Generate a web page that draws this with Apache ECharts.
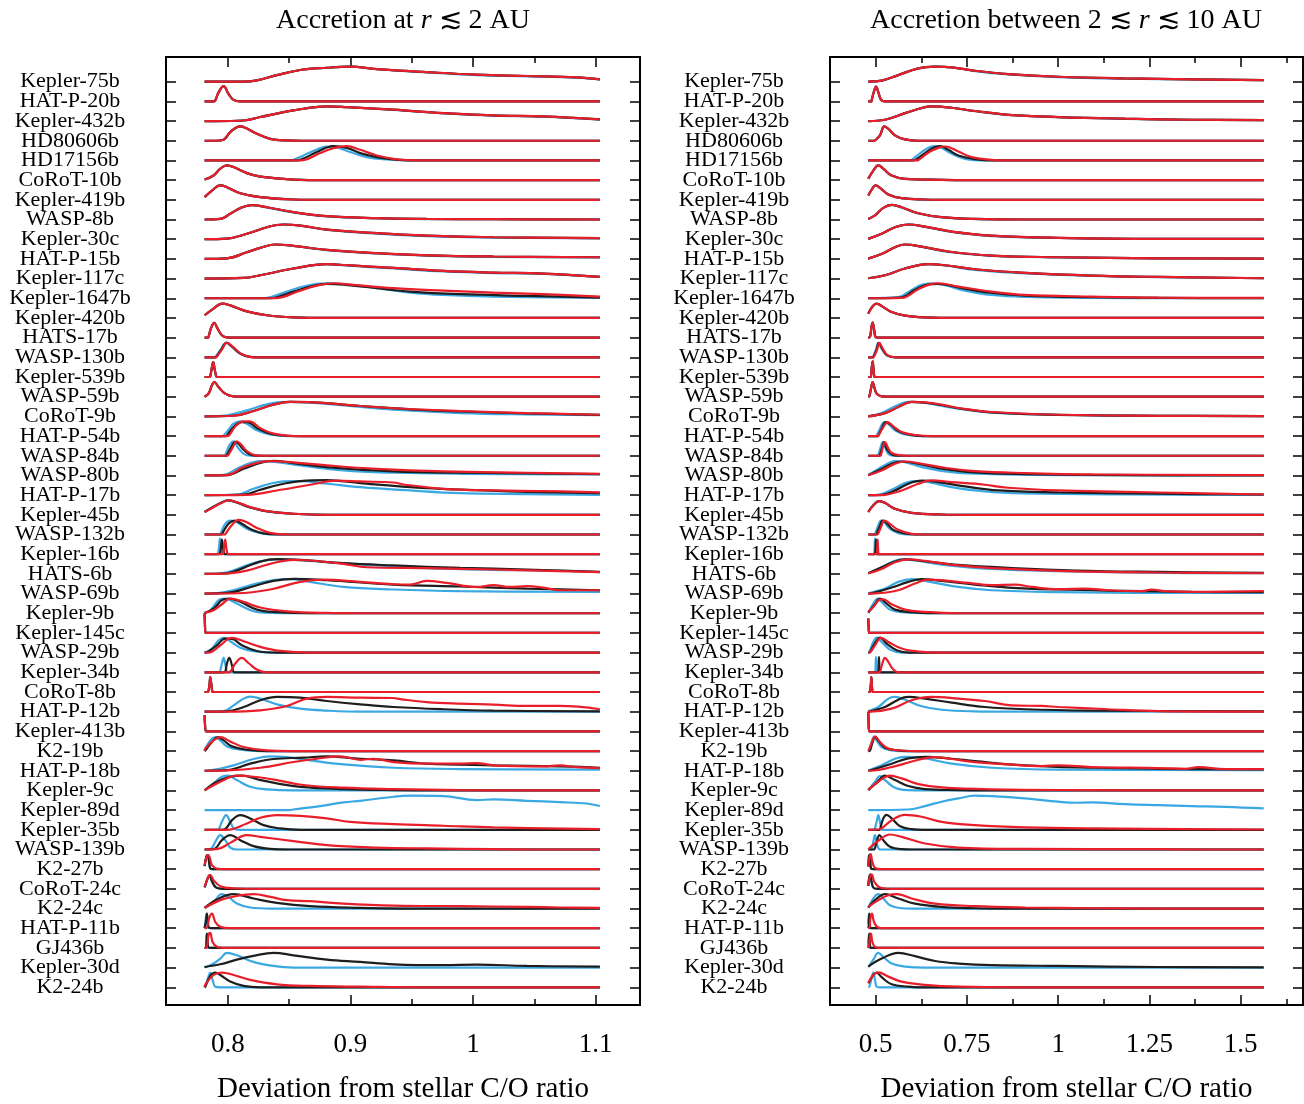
<!DOCTYPE html>
<html><head><meta charset="utf-8">
<script src="https://cdn.jsdelivr.net/npm/echarts@6/dist/echarts.min.js"></script>
<style>html,body{margin:0;padding:0;background:#fff}#c{width:1304px;height:1104px}</style>
</head><body><div id="c"></div>
<script>
// ---------------- data ----------------
const planets = ['Kepler-75b','HAT-P-20b','Kepler-432b','HD80606b','HD17156b','CoRoT-10b','Kepler-419b','WASP-8b','Kepler-30c','HAT-P-15b','Kepler-117c','Kepler-1647b','Kepler-420b','HATS-17b','WASP-130b','Kepler-539b','WASP-59b','CoRoT-9b','HAT-P-54b','WASP-84b','WASP-80b','HAT-P-17b','Kepler-45b','WASP-132b','Kepler-16b','HATS-6b','WASP-69b','Kepler-9b','Kepler-145c','WASP-29b','Kepler-34b','CoRoT-8b','HAT-P-12b','Kepler-413b','K2-19b','HAT-P-18b','Kepler-9c','Kepler-89d','Kepler-35b','WASP-139b','K2-27b','CoRoT-24c','K2-24c','HAT-P-11b','GJ436b','Kepler-30d','K2-24b'];
const leftRange = [0.781, 1.1035];
const rightRange = [0.4799, 1.563];
const leftMajor = [0.8, 0.9, 1.0, 1.1];
const leftMinor = [0.85, 0.95, 1.05];
const rightMajor = [0.5, 0.75, 1.0, 1.25, 1.5];
const rightMinor = [0.625, 0.875, 1.125, 1.375, 1.625];
const titles = ['Accretion at ', 'Accretion between 2 ≲ '];
const xName = 'Deviation from stellar C/O ratio';

// each curve: [x, normalised density]; null = no curve
const leftBlue = [
[[0.8128,0],[0.8236,0.09],[0.8399,0.44],[0.859,0.78],[0.8807,0.93],[0.8997,1.0],[0.9215,0.83],[0.9622,0.62],[1.003,0.44],[1.0438,0.36],[1.0845,0.27],[1.1035,0.15]],
[[0.7883,0],[0.7897,0.07],[0.7924,0.6],[0.7965,1.02],[0.8005,0.5],[0.8046,0.1],[0.8101,0],[0.815,0]],
[[0.79,0],[0.8128,0.04],[0.8264,0.27],[0.8535,0.71],[0.8807,0.98],[0.897,0.93],[0.9351,0.74],[0.9758,0.51],[1.0166,0.36],[1.0573,0.29],[1.1035,0.1]],
[[0.79,0],[0.7965,0.07],[0.8019,0.58],[0.8101,0.96],[0.8141,0.87],[0.8236,0.47],[0.8345,0.13],[0.8481,0.02],[0.86,0]],
[[0.85,0],[0.8535,0.04],[0.8617,0.33],[0.8726,0.73],[0.8807,0.93],[0.8889,0.87],[0.8997,0.56],[0.9133,0.22],[0.9296,0.07],[0.9486,0],[0.96,0]],
[[0.781,0.04],[0.7883,0.31],[0.7938,0.76],[0.7992,0.98],[0.8046,0.87],[0.8155,0.47],[0.8264,0.24],[0.8535,0.04],[0.8807,0]],
[[0.781,0.18],[0.787,0.62],[0.7938,0.96],[0.7992,0.84],[0.8101,0.44],[0.8264,0.18],[0.8535,0.02],[0.8807,0]],
[[0.7938,0.04],[0.8019,0.38],[0.8101,0.76],[0.8196,0.96],[0.8318,0.8],[0.8535,0.47],[0.8807,0.2],[0.9215,0.08],[0.9622,0.03],[1.0166,0.02]],
[[0.7992,0.04],[0.8155,0.36],[0.8318,0.8],[0.8454,0.98],[0.859,0.9],[0.8807,0.62],[0.9215,0.37],[0.9622,0.21],[1.0166,0.11],[1.1035,0.05]],
[[0.7992,0.04],[0.8155,0.44],[0.8264,0.73],[0.8386,0.96],[0.8535,0.86],[0.8807,0.58],[0.9215,0.36],[0.9622,0.22],[1.0166,0.14],[1.1035,0.1]],
[[0.8128,0.04],[0.8264,0.22],[0.8535,0.67],[0.8807,0.96],[0.897,0.87],[0.9351,0.67],[0.9758,0.47],[1.0166,0.36],[1.0573,0.31],[1.1035,0.11]],
[[0.83,0],[0.8345,0.07],[0.8481,0.44],[0.859,0.73],[0.8726,0.96],[0.8807,1.0],[0.897,0.93],[0.9215,0.67],[0.9486,0.38],[0.9758,0.22],[1.0166,0.11],[1.1035,0.02]],
[[0.781,0.18],[0.7883,0.62],[0.7951,0.96],[0.8019,0.84],[0.8155,0.44],[0.8318,0.18],[0.8535,0.04],[0.8807,0]],
[[0.7837,0],[0.7842,0.04],[0.7861,0.6],[0.7889,0.98],[0.7916,0.6],[0.7951,0.16],[0.7992,0.02],[0.806,0],[0.81,0]],
[[0.789,0],[0.7897,0.02],[0.7938,0.47],[0.7986,0.96],[0.8033,0.69],[0.8101,0.24],[0.8182,0.02],[0.825,0]],
[[0.785,0],[0.7856,0.04],[0.787,0.67],[0.788,1.0],[0.7891,0.56],[0.7905,0.04],[0.7915,0],[0.795,0]],
[[0.781,0],[0.7842,0.2],[0.787,0.76],[0.7889,0.98],[0.7924,0.64],[0.7978,0.2],[0.8046,0.02],[0.812,0]],
[[0.7992,0.07],[0.8155,0.4],[0.8318,0.8],[0.8481,0.96],[0.8671,0.91],[0.8943,0.73],[0.9351,0.44],[0.9894,0.22],[1.0438,0.13],[1.1035,0.09]],
[[0.795,0],[0.7965,0.04],[0.8005,0.42],[0.8046,0.82],[0.8101,0.98],[0.8155,0.82],[0.8236,0.38],[0.8345,0.11],[0.8481,0],[0.86,0]],
[[0.797,0],[0.7978,0.04],[0.8005,0.58],[0.8033,0.91],[0.8052,0.96],[0.8079,0.58],[0.8128,0.13],[0.8182,0],[0.825,0]],
[[0.7965,0.04],[0.8073,0.44],[0.8182,0.82],[0.8264,0.96],[0.8399,0.89],[0.859,0.67],[0.8943,0.33],[0.9351,0.18],[0.9894,0.11],[1.1035,0.07]],
[[0.8073,0.04],[0.8209,0.42],[0.8345,0.76],[0.8454,0.91],[0.859,0.93],[0.8807,0.76],[0.9079,0.53],[0.9486,0.31],[0.9894,0.13],[1.0438,0.07],[1.1035,0.02]],
[[0.781,0.2],[0.7873,0.51],[0.7941,0.8],[0.7995,0.96],[0.8063,0.84],[0.8172,0.51],[0.8308,0.24],[0.8525,0.07],[0.8807,0]],
[[0.793,0],[0.7938,0.04],[0.7978,0.71],[0.8019,0.93],[0.8073,0.82],[0.8155,0.38],[0.8264,0.09],[0.8372,0],[0.845,0]],
[[0.7905,0],[0.7918,0.05],[0.7928,0.5],[0.7935,1.04],[0.7943,0.5],[0.7953,0.03],[0.7965,0],[0.80,0]],
[[0.7992,0.11],[0.8128,0.49],[0.8264,0.84],[0.8399,0.96],[0.8535,0.93],[0.8807,0.78],[0.9215,0.56],[0.9622,0.38],[1.0166,0.27],[1.0709,0.22],[1.1035,0.11]],
[[0.7856,0],[0.8046,0.22],[0.8209,0.62],[0.8372,0.89],[0.8508,0.96],[0.8671,0.78],[0.8943,0.44],[0.9351,0.27],[0.9894,0.16],[1.1035,0.11]],
[[0.781,0],[0.7856,0.2],[0.7924,0.87],[0.7965,0.98],[0.8019,0.87],[0.8101,0.53],[0.8209,0.13],[0.8345,0.02],[0.8807,0]],
[[0.781,1.29],[0.7813,0.5],[0.7818,0],[0.79,0]],
[[0.781,0],[0.787,0.27],[0.7924,0.82],[0.7965,0.98],[0.8019,0.76],[0.8101,0.33],[0.8209,0.09],[0.8345,0],[0.85,0]],
[[0.7935,0],[0.7938,0.02],[0.7951,0.58],[0.7965,0.96],[0.7978,0.58],[0.7992,0.02],[0.80,0],[0.805,0]],
[[0.784,0],[0.7842,0.02],[0.785,0.5],[0.7856,1.0],[0.7865,0.5],[0.7875,0.02],[0.789,0],[0.795,0]],
[[0.7965,0.04],[0.8046,0.42],[0.8128,0.87],[0.8182,1.0],[0.8264,0.87],[0.8399,0.49],[0.859,0.2],[0.8807,0.07],[0.9079,0],[0.95,0]],
[[0.781,1.07],[0.7813,0.5],[0.7823,0],[0.79,0]],
[[0.781,0.04],[0.7856,0.71],[0.7897,0.93],[0.7938,0.71],[0.7992,0.31],[0.8101,0.09],[0.8264,0],[0.84,0]],
[[0.7856,0.02],[0.8046,0.36],[0.8209,0.78],[0.8345,0.96],[0.8481,0.91],[0.8671,0.69],[0.8943,0.42],[0.9351,0.2],[0.9894,0.11],[1.1035,0.07]],
[[0.7815,0.02],[0.7883,0.47],[0.7951,0.91],[0.8005,0.98],[0.8073,0.69],[0.8182,0.24],[0.8318,0.07],[0.8535,0],[0.88,0]],
[[0.85,0],[0.8535,0.04],[0.8753,0.27],[0.8943,0.51],[0.9079,0.62],[0.9351,0.89],[0.9486,0.96],[0.9758,0.93],[1.003,0.67],[1.0166,0.71],[1.0438,0.62],[1.0709,0.53],[1.0927,0.44],[1.1035,0.27]],
[[0.7915,0],[0.7924,0.02],[0.7951,0.53],[0.7986,0.98],[0.8019,0.53],[0.8052,0.07],[0.8101,0],[0.82,0]],
[[0.7856,0.02],[0.7897,0.51],[0.7938,0.96],[0.7978,0.62],[0.8019,0.13],[0.8073,0],[0.815,0]],
[[0.781,0.2],[0.7825,0.85],[0.7836,0.93],[0.7846,0.5],[0.7856,0.05],[0.787,0],[0.795,0]],
[[0.781,0.1],[0.7835,0.7],[0.785,0.92],[0.787,0.5],[0.7905,0.08],[0.796,0],[0.81,0]],
[[0.781,0.04],[0.7883,0.44],[0.7951,0.96],[0.8005,0.78],[0.8073,0.33],[0.8182,0.07],[0.8345,0],[0.85,0]],
[[0.7812,0],[0.7818,0.5],[0.7825,0.96],[0.7832,0.5],[0.7838,0.05],[0.786,0],[0.795,0]],
[[0.782,0],[0.7824,0.5],[0.7827,0.9],[0.7832,0.4],[0.7838,0.03],[0.786,0],[0.795,0]],
[[0.781,0],[0.7883,0.27],[0.7938,0.6],[0.7992,0.98],[0.8073,0.82],[0.8209,0.38],[0.8372,0.11],[0.8535,0],[0.88,0]],
[[0.7815,0.04],[0.7837,0.6],[0.7856,0.98],[0.7875,0.49],[0.7897,0.04],[0.7938,0],[0.80,0]]
];
const leftBlack = [
[[0.8128,0],[0.8236,0.09],[0.8399,0.44],[0.859,0.78],[0.8807,0.93],[0.8997,1.0],[0.9215,0.84],[0.9622,0.64],[1.003,0.47],[1.0438,0.38],[1.0845,0.29],[1.1035,0.16]],
[[0.7883,0],[0.7897,0.07],[0.7924,0.6],[0.7965,1.02],[0.8005,0.5],[0.8046,0.1],[0.8101,0],[0.815,0]],
[[0.79,0],[0.8128,0.04],[0.8264,0.27],[0.8535,0.71],[0.8807,0.98],[0.897,0.93],[0.9351,0.76],[0.9758,0.53],[1.0166,0.38],[1.0573,0.31],[1.1035,0.11]],
[[0.79,0],[0.7965,0.07],[0.8019,0.58],[0.8101,0.96],[0.8141,0.87],[0.8236,0.47],[0.8345,0.13],[0.8481,0.02],[0.86,0]],
[[0.855,0],[0.859,0.04],[0.8726,0.56],[0.8861,0.96],[0.897,0.84],[0.9079,0.49],[0.9215,0.22],[0.9351,0.07],[0.95,0]],
[[0.781,0.04],[0.7883,0.31],[0.7938,0.76],[0.7992,0.98],[0.8046,0.87],[0.8155,0.47],[0.8264,0.24],[0.8535,0.04],[0.8807,0]],
[[0.781,0.18],[0.787,0.62],[0.7938,0.96],[0.7992,0.84],[0.8101,0.44],[0.8264,0.18],[0.8535,0.02],[0.8807,0]],
[[0.7938,0.04],[0.8019,0.38],[0.8101,0.76],[0.8196,0.96],[0.8318,0.82],[0.8535,0.49],[0.8807,0.22],[0.9215,0.09],[0.9622,0.04],[1.0166,0.02]],
[[0.7992,0.04],[0.8155,0.36],[0.8318,0.8],[0.8454,0.98],[0.859,0.91],[0.8807,0.64],[0.9215,0.4],[0.9622,0.24],[1.0166,0.13],[1.1035,0.07]],
[[0.7992,0.04],[0.8155,0.44],[0.8264,0.73],[0.8386,0.96],[0.8535,0.87],[0.8807,0.6],[0.9215,0.38],[0.9622,0.24],[1.0166,0.16],[1.1035,0.11]],
[[0.8128,0.04],[0.8264,0.22],[0.8535,0.67],[0.8807,0.96],[0.897,0.89],[0.9351,0.71],[0.9758,0.51],[1.0166,0.4],[1.0573,0.33],[1.1035,0.11]],
[[0.835,0],[0.8399,0.07],[0.8535,0.44],[0.8671,0.78],[0.8807,0.96],[0.8943,0.91],[0.9215,0.67],[0.9486,0.44],[0.9894,0.27],[1.0438,0.16],[1.1035,0.04]],
[[0.781,0.18],[0.7883,0.62],[0.7951,0.96],[0.8019,0.84],[0.8155,0.44],[0.8318,0.18],[0.8535,0.04],[0.8807,0]],
[[0.7837,0],[0.7842,0.04],[0.7861,0.6],[0.7889,0.98],[0.7916,0.6],[0.7951,0.16],[0.7992,0.02],[0.806,0],[0.81,0]],
[[0.7897,0],[0.7905,0.02],[0.7944,0.49],[0.7989,0.97],[0.8037,0.69],[0.8107,0.22],[0.8195,0.01],[0.827,0]],
[[0.785,0],[0.7856,0.04],[0.787,0.67],[0.788,1.0],[0.7891,0.56],[0.7905,0.04],[0.7915,0],[0.795,0]],
[[0.781,0],[0.7842,0.2],[0.787,0.76],[0.7889,0.98],[0.7924,0.64],[0.7978,0.2],[0.8046,0.02],[0.812,0]],
[[0.8046,0.04],[0.8209,0.36],[0.8372,0.78],[0.8508,0.96],[0.8698,0.93],[0.9079,0.69],[0.9486,0.47],[0.9894,0.33],[1.0438,0.2],[1.1035,0.1]],
[[0.798,0],[0.7992,0.04],[0.8046,0.6],[0.8114,0.93],[0.816,0.93],[0.8236,0.53],[0.8345,0.16],[0.8481,0.02],[0.86,0]],
[[0.799,0],[0.7992,0.02],[0.8027,0.58],[0.806,0.91],[0.8087,0.8],[0.8128,0.4],[0.8196,0.04],[0.826,0]],
[[0.7992,0.02],[0.8128,0.44],[0.8264,0.84],[0.8372,0.98],[0.8535,0.82],[0.8807,0.56],[0.9351,0.27],[0.9894,0.18],[1.1035,0.09]],
[[0.8128,0.04],[0.8264,0.36],[0.8427,0.71],[0.859,0.93],[0.8807,1.0],[0.9079,0.8],[0.9486,0.53],[0.9894,0.36],[1.0438,0.22],[1.1035,0.13]],
[[0.781,0.19],[0.7878,0.51],[0.7946,0.8],[0.8,0.96],[0.8068,0.84],[0.8177,0.51],[0.8313,0.24],[0.853,0.07],[0.8807,0]],
[[0.795,0],[0.7951,0.02],[0.8005,0.71],[0.8052,0.93],[0.8114,0.71],[0.8196,0.31],[0.8291,0.07],[0.84,0]],
[[0.7924,0],[0.7935,0.05],[0.7944,0.5],[0.7951,0.98],[0.7959,0.5],[0.797,0.03],[0.798,0],[0.80,0]],
[[0.7992,0.04],[0.8128,0.4],[0.8264,0.82],[0.8399,0.98],[0.859,0.93],[0.8943,0.71],[0.9351,0.56],[0.9894,0.4],[1.0438,0.29],[1.1035,0.13]],
[[0.7992,0.04],[0.8209,0.49],[0.8372,0.84],[0.8535,0.98],[0.8807,0.89],[0.9351,0.6],[0.9894,0.47],[1.0438,0.33],[1.1035,0.22]],
[[0.781,0.02],[0.7883,0.31],[0.7951,0.87],[0.8005,0.98],[0.8101,0.76],[0.8236,0.24],[0.8399,0.07],[0.8671,0]],
[[0.781,1.29],[0.7813,0.5],[0.7818,0],[0.79,0]],
[[0.7829,0.02],[0.791,0.49],[0.7978,0.93],[0.8033,0.91],[0.8114,0.49],[0.8236,0.11],[0.8399,0],[0.86,0]],
[[0.797,0],[0.7978,0.02],[0.7992,0.58],[0.8011,0.96],[0.8033,0.47],[0.8052,0],[0.81,0]],
[[0.784,0],[0.7842,0.02],[0.785,0.5],[0.7856,1.0],[0.7865,0.5],[0.7875,0.02],[0.789,0],[0.795,0]],
[[0.7992,0.02],[0.8128,0.31],[0.8264,0.76],[0.8399,0.98],[0.859,0.93],[0.8807,0.71],[0.9079,0.49],[0.9351,0.31],[0.9758,0.16],[1.0166,0.07],[1.1035,0.02]],
[[0.781,1.07],[0.7813,0.5],[0.7823,0],[0.79,0]],
[[0.7815,0.04],[0.787,0.6],[0.7916,0.93],[0.7965,0.71],[0.8033,0.31],[0.8155,0.09],[0.8318,0],[0.85,0]],
[[0.7992,0.04],[0.8182,0.47],[0.8372,0.78],[0.8617,0.87],[0.8807,0.96],[0.9079,0.8],[0.9351,0.69],[0.9622,0.47],[1.0166,0.36],[1.0709,0.29],[1.1035,0.2]],
[[0.7815,0.02],[0.791,0.58],[0.8019,0.91],[0.8114,0.98],[0.8264,0.69],[0.8399,0.47],[0.859,0.24],[0.8943,0.09],[0.9351,0.02],[0.97,0]],
null,
[[0.7965,0.02],[0.8033,0.64],[0.8101,0.98],[0.8182,0.76],[0.8291,0.31],[0.8427,0.09],[0.859,0],[0.88,0]],
[[0.7883,0.02],[0.7951,0.62],[0.8019,0.96],[0.8101,0.62],[0.8209,0.22],[0.8345,0.04],[0.85,0]],
[[0.781,0.2],[0.7825,0.85],[0.7836,0.93],[0.7846,0.5],[0.7856,0.05],[0.787,0],[0.795,0]],
[[0.781,0.1],[0.7835,0.7],[0.785,0.92],[0.787,0.5],[0.7905,0.08],[0.796,0],[0.81,0]],
[[0.781,0.04],[0.791,0.6],[0.8046,0.96],[0.8209,0.67],[0.8399,0.38],[0.8671,0.16],[0.9079,0.04],[0.94,0]],
[[0.7815,0],[0.7822,0.5],[0.7829,0.98],[0.7836,0.5],[0.7842,0.09],[0.786,0],[0.795,0]],
[[0.7822,0],[0.7826,0.5],[0.7829,0.96],[0.7834,0.5],[0.784,0.05],[0.786,0],[0.795,0]],
[[0.7815,0.04],[0.7938,0.22],[0.8073,0.53],[0.8209,0.78],[0.8372,0.98],[0.8535,0.82],[0.8807,0.53],[0.9079,0.38],[0.9351,0.22],[0.9758,0.16],[1.003,0.2],[1.0438,0.11],[1.1035,0.07]],
[[0.7815,0.04],[0.7856,0.76],[0.7897,0.98],[0.7938,0.82],[0.8019,0.38],[0.8128,0.09],[0.8264,0],[0.84,0]]
];
const leftRed = [
[[0.8128,0],[0.8236,0.09],[0.8399,0.44],[0.859,0.78],[0.8807,0.93],[0.8997,1.0],[0.9215,0.84],[0.9622,0.64],[1.003,0.47],[1.0438,0.38],[1.0845,0.29],[1.1035,0.16]],
[[0.7883,0],[0.7897,0.07],[0.7924,0.6],[0.7965,1.02],[0.8005,0.5],[0.8046,0.1],[0.8101,0],[0.815,0]],
[[0.79,0],[0.8128,0.04],[0.8264,0.27],[0.8535,0.71],[0.8807,0.98],[0.897,0.93],[0.9351,0.76],[0.9758,0.53],[1.0166,0.38],[1.0573,0.31],[1.1035,0.11]],
[[0.79,0],[0.7965,0.07],[0.8019,0.58],[0.8101,0.96],[0.8141,0.87],[0.8236,0.47],[0.8345,0.13],[0.8481,0.02],[0.86,0]],
[[0.858,0],[0.8617,0.02],[0.8753,0.49],[0.8861,0.82],[0.897,0.96],[0.9079,0.71],[0.9215,0.33],[0.9351,0.11],[0.9486,0.02],[0.96,0]],
[[0.781,0.04],[0.7883,0.31],[0.7938,0.76],[0.7992,0.98],[0.8046,0.87],[0.8155,0.47],[0.8264,0.24],[0.8535,0.04],[0.8807,0]],
[[0.781,0.18],[0.787,0.62],[0.7938,0.96],[0.7992,0.84],[0.8101,0.44],[0.8264,0.18],[0.8535,0.02],[0.8807,0]],
[[0.7938,0.04],[0.8019,0.38],[0.8101,0.76],[0.8196,0.96],[0.8318,0.82],[0.8535,0.49],[0.8807,0.22],[0.9215,0.09],[0.9622,0.04],[1.0166,0.02]],
[[0.7992,0.04],[0.8155,0.36],[0.8318,0.8],[0.8454,0.98],[0.859,0.91],[0.8807,0.64],[0.9215,0.4],[0.9622,0.24],[1.0166,0.13],[1.1035,0.07]],
[[0.7992,0.04],[0.8155,0.44],[0.8264,0.73],[0.8386,0.96],[0.8535,0.87],[0.8807,0.6],[0.9215,0.38],[0.9622,0.24],[1.0166,0.16],[1.1035,0.11]],
[[0.8128,0.04],[0.8264,0.22],[0.8535,0.67],[0.8807,0.96],[0.897,0.89],[0.9351,0.71],[0.9758,0.51],[1.0166,0.4],[1.0573,0.33],[1.1035,0.11]],
[[0.835,0],[0.8399,0.01],[0.859,0.51],[0.8726,0.84],[0.8861,1.0],[0.9024,0.89],[0.9351,0.67],[0.9758,0.51],[1.0166,0.38],[1.0573,0.27],[1.1035,0.11]],
[[0.781,0.18],[0.7883,0.62],[0.7951,0.96],[0.8019,0.84],[0.8155,0.44],[0.8318,0.18],[0.8535,0.04],[0.8807,0]],
[[0.7837,0],[0.7842,0.04],[0.7861,0.6],[0.7889,0.98],[0.7916,0.6],[0.7951,0.16],[0.7992,0.02],[0.806,0],[0.81,0]],
[[0.7905,0],[0.791,0.02],[0.7951,0.51],[0.7992,0.98],[0.8041,0.69],[0.8114,0.2],[0.8209,0],[0.83,0]],
[[0.785,0],[0.7856,0.04],[0.787,0.67],[0.788,1.0],[0.7891,0.56],[0.7905,0.04],[0.7915,0],[0.795,0]],
[[0.781,0],[0.7842,0.2],[0.787,0.76],[0.7889,0.98],[0.7924,0.64],[0.7978,0.2],[0.8046,0.02],[0.812,0]],
[[0.8046,0.04],[0.8209,0.36],[0.8372,0.78],[0.8508,0.96],[0.8698,0.93],[0.9079,0.69],[0.9486,0.49],[0.9894,0.36],[1.0438,0.22],[1.1035,0.11]],
[[0.799,0],[0.8005,0.02],[0.806,0.64],[0.8128,0.98],[0.8177,0.98],[0.8264,0.53],[0.8372,0.16],[0.8535,0],[0.865,0]],
[[0.800,0],[0.8005,0.02],[0.8041,0.58],[0.8073,0.96],[0.8106,0.76],[0.8155,0.31],[0.8236,0.02],[0.83,0]],
[[0.7992,0.02],[0.8128,0.56],[0.8264,0.89],[0.8345,0.96],[0.8535,0.87],[0.8807,0.67],[0.9215,0.44],[0.9758,0.27],[1.0438,0.18],[1.1035,0.11]],
[[0.8155,0.02],[0.8399,0.31],[0.8671,0.69],[0.8889,0.96],[0.9079,0.91],[0.9351,0.84],[0.9432,0.71],[0.9758,0.42],[1.0166,0.31],[1.0573,0.27],[1.1035,0.18]],
[[0.781,0.18],[0.7883,0.51],[0.7951,0.8],[0.8005,0.96],[0.8073,0.84],[0.8182,0.51],[0.8318,0.24],[0.8535,0.07],[0.8807,0]],
[[0.797,0],[0.7978,0.02],[0.8033,0.64],[0.8087,0.98],[0.8155,0.82],[0.8236,0.44],[0.8345,0.11],[0.8481,0],[0.86,0]],
[[0.795,0],[0.7962,0.05],[0.797,0.5],[0.7978,0.98],[0.7986,0.5],[0.7997,0.03],[0.801,0],[0.805,0]],
[[0.7992,0.02],[0.8155,0.22],[0.8345,0.67],[0.8535,0.93],[0.8671,0.89],[0.8943,0.67],[0.9133,0.44],[0.9622,0.38],[1.0166,0.29],[1.1035,0.11]],
[[0.8073,0.02],[0.8345,0.27],[0.859,0.78],[0.878,0.93],[0.9079,0.78],[0.9351,0.62],[0.9486,0.6],[0.9622,0.84],[0.9785,0.71],[1.003,0.44],[1.0166,0.56],[1.0302,0.44],[1.0438,0.49],[1.0573,0.4],[1.0709,0.22],[1.1035,0.22]],
[[0.781,0.04],[0.7883,0.2],[0.7951,0.6],[0.8019,0.98],[0.8128,0.76],[0.8264,0.38],[0.8481,0.13],[0.8807,0.02],[0.9079,0]],
[[0.781,1.29],[0.7813,0.5],[0.7818,0],[0.79,0]],
[[0.7856,0.02],[0.7938,0.49],[0.8033,0.98],[0.8128,0.76],[0.8264,0.38],[0.8427,0.11],[0.8671,0],[0.89,0]],
[[0.8005,0],[0.806,0.58],[0.8114,0.96],[0.8168,0.62],[0.8236,0.18],[0.8318,0],[0.84,0]],
[[0.784,0],[0.7842,0.02],[0.785,0.5],[0.7856,1.0],[0.7865,0.5],[0.7875,0.02],[0.789,0],[0.795,0]],
[[0.7992,0],[0.8264,0.09],[0.8481,0.38],[0.8644,0.87],[0.8807,0.98],[0.9079,0.93],[0.9351,0.91],[0.9405,0.84],[0.9622,0.64],[0.9894,0.53],[1.0166,0.47],[1.0438,0.38],[1.0709,0.38],[1.1035,0.16]],
[[0.781,1.07],[0.7813,0.5],[0.7823,0],[0.79,0]],
[[0.7815,0.16],[0.7883,0.71],[0.7938,0.93],[0.8019,0.64],[0.8128,0.27],[0.8318,0.04],[0.85,0]],
[[0.7992,0.02],[0.8264,0.2],[0.8535,0.58],[0.8726,0.8],[0.8916,0.96],[0.9079,0.73],[0.9188,0.8],[0.9351,0.58],[0.9622,0.47],[0.9894,0.47],[1.003,0.51],[1.0166,0.36],[1.0573,0.29],[1.0709,0.36],[1.0845,0.24],[1.1035,0.18]],
[[0.7815,0],[0.7938,0.58],[0.8073,0.98],[0.8209,0.91],[0.8399,0.69],[0.8617,0.36],[0.8943,0.18],[0.9351,0.09],[0.9894,0.02],[1.03,0]],
null,
[[0.7992,0],[0.8155,0.42],[0.8264,0.8],[0.8399,0.98],[0.859,0.93],[0.8807,0.76],[0.8997,0.53],[0.9351,0.38],[0.9758,0.27],[1.0166,0.16],[1.1035,0.04]],
[[0.791,0.02],[0.8019,0.44],[0.8155,0.96],[0.8264,0.84],[0.8535,0.56],[0.8807,0.29],[0.9215,0.13],[0.9622,0.07],[1.0166,0.02],[1.05,0]],
[[0.781,0.27],[0.7827,0.85],[0.7839,0.93],[0.7851,0.8],[0.787,0.27],[0.791,0.04],[0.7992,0],[0.81,0]],
[[0.781,0.13],[0.7842,0.84],[0.7856,0.91],[0.7883,0.58],[0.7938,0.18],[0.8046,0.04],[0.8264,0],[0.84,0]],
[[0.781,0.04],[0.7938,0.56],[0.8073,0.84],[0.8209,0.96],[0.8345,0.78],[0.8481,0.56],[0.8671,0.49],[0.8943,0.33],[0.9351,0.2],[0.9894,0.16],[1.0438,0.11],[1.0709,0.07],[1.1035,0.04]],
[[0.7823,0],[0.7851,0.76],[0.787,0.98],[0.7897,0.42],[0.7938,0.09],[0.8019,0],[0.81,0]],
[[0.7825,0],[0.7842,0.84],[0.7856,1.0],[0.7875,0.4],[0.791,0.07],[0.7965,0],[0.805,0]],
null,
[[0.7815,0.16],[0.7883,0.82],[0.7951,0.98],[0.8046,0.82],[0.8182,0.49],[0.8399,0.2],[0.8671,0.09],[0.9079,0.04],[0.9622,0],[1.0,0]]
];
const rightBlue = [
[[0.5164,0.07],[0.5621,0.44],[0.6169,0.89],[0.6626,1.0],[0.7082,0.96],[0.7721,0.71],[0.8635,0.49],[1.0005,0.31],[1.1831,0.2],[1.3658,0.15],[1.563,0.1]],
[[0.488,0],[0.489,0.07],[0.4963,0.73],[0.5009,0.98],[0.5073,0.62],[0.5146,0.11],[0.5256,0],[0.54,0]],
[[0.5256,0.09],[0.5804,0.53],[0.6352,0.93],[0.6534,0.98],[0.7082,0.89],[0.7721,0.66],[0.8635,0.41],[1.0005,0.26],[1.1831,0.15],[1.3658,0.09],[1.563,0.07]],
[[0.497,0],[0.4982,0.02],[0.5119,0.36],[0.5237,0.96],[0.5347,0.8],[0.553,0.36],[0.5804,0.09],[0.6169,0],[0.64,0]],
[[0.595,0],[0.5986,0.04],[0.626,0.56],[0.6489,0.89],[0.6626,0.96],[0.6808,0.84],[0.7082,0.44],[0.7447,0.11],[0.7995,0],[0.83,0]],
[[0.4799,0.09],[0.4936,0.64],[0.5073,0.98],[0.521,0.76],[0.5438,0.31],[0.5804,0.09],[0.6808,0.02],[0.75,0]],
[[0.4799,0.29],[0.489,0.67],[0.5,0.96],[0.5119,0.8],[0.5347,0.36],[0.5712,0.11],[0.6352,0.02],[0.7,0]],
[[0.4799,0.04],[0.4982,0.27],[0.521,0.78],[0.5438,0.98],[0.5712,0.8],[0.6169,0.4],[0.6808,0.14],[0.7721,0.03],[0.9091,0]],
[[0.4799,0.02],[0.5164,0.36],[0.553,0.8],[0.5895,0.98],[0.6352,0.82],[0.7082,0.48],[0.8178,0.21],[1.0005,0.08],[1.2744,0.02],[1.563,0.02]],
[[0.4799,0.02],[0.521,0.38],[0.553,0.78],[0.5804,0.96],[0.626,0.8],[0.6991,0.46],[0.8178,0.2],[1.0005,0.1],[1.2744,0.04],[1.563,0.02]],
[[0.4799,0.02],[0.5256,0.22],[0.5804,0.67],[0.6443,0.96],[0.69,0.87],[0.7721,0.58],[0.9091,0.34],[1.0918,0.18],[1.2744,0.1],[1.563,0.02]],
[[0.5621,0.07],[0.5986,0.56],[0.626,0.89],[0.6534,1.0],[0.69,0.87],[0.7447,0.51],[0.8178,0.22],[0.9091,0.09],[1.0918,0.02],[1.3,0]],
[[0.4799,0.29],[0.4918,0.78],[0.5027,0.96],[0.5164,0.8],[0.5438,0.4],[0.5804,0.16],[0.6352,0.04],[0.7265,0],[0.8,0]],
[[0.4845,0.04],[0.489,0.76],[0.4918,1.0],[0.4954,0.6],[0.5,0.04],[0.5073,0],[0.52,0]],
[[0.492,0],[0.4936,0.02],[0.5009,0.51],[0.5073,0.96],[0.5164,0.58],[0.5301,0.13],[0.553,0],[0.57,0]],
[[0.486,0],[0.4872,0.04],[0.49,0.78],[0.4918,1.04],[0.4936,0.67],[0.4963,0.04],[0.498,0],[0.51,0]],
[[0.4799,0],[0.4826,0.02],[0.4872,0.53],[0.4918,0.98],[0.4963,0.64],[0.5027,0.2],[0.5164,0.02],[0.54,0]],
[[0.4799,0.02],[0.5164,0.22],[0.553,0.67],[0.5895,0.96],[0.6352,0.89],[0.7082,0.58],[0.8178,0.24],[1.0005,0.11],[1.2744,0.04],[1.563,0.02]],
[[0.502,0],[0.5027,0.04],[0.5119,0.49],[0.5237,0.93],[0.5347,0.82],[0.553,0.38],[0.5804,0.11],[0.626,0],[0.65,0]],
[[0.506,0],[0.5073,0.04],[0.5137,0.58],[0.5192,0.91],[0.5256,0.58],[0.5347,0.13],[0.553,0],[0.57,0]],
[[0.4799,0.04],[0.5073,0.44],[0.5347,0.82],[0.553,0.96],[0.5804,0.89],[0.626,0.56],[0.7082,0.22],[0.8178,0.09],[1.0918,0.02],[1.563,0]],
[[0.5073,0.02],[0.5438,0.36],[0.5804,0.8],[0.6078,0.93],[0.6443,0.87],[0.7082,0.53],[0.7995,0.24],[0.9091,0.11],[1.1831,0.04],[1.563,0.02]],
[[0.4799,0.2],[0.4926,0.62],[0.509,0.91],[0.5246,0.8],[0.552,0.4],[0.5976,0.13],[0.6808,0.02],[0.75,0]],
[[0.497,0],[0.4982,0.04],[0.5073,0.6],[0.5146,0.93],[0.5237,0.82],[0.5393,0.38],[0.5712,0.04],[0.6,0]],
[[0.495,0],[0.4962,0.05],[0.4973,0.5],[0.4982,1.04],[0.4991,0.5],[0.5002,0.05],[0.5015,0],[0.51,0]],
[[0.4799,0.04],[0.5073,0.33],[0.5438,0.78],[0.5712,0.96],[0.6078,0.89],[0.6808,0.62],[0.8178,0.33],[1.0005,0.18],[1.2744,0.07],[1.563,0.04]],
[[0.4799,0.02],[0.5256,0.33],[0.5621,0.78],[0.5986,0.96],[0.6352,0.84],[0.7265,0.44],[0.8178,0.22],[1.0005,0.09],[1.2744,0.04],[1.563,0.04]],
[[0.4799,0.02],[0.4936,0.64],[0.5055,0.98],[0.5164,0.76],[0.5393,0.24],[0.5712,0.07],[0.6352,0],[0.7,0]],
[[0.4799,0.96],[0.4808,0.4],[0.4826,0],[0.49,0]],
[[0.4826,0.04],[0.4936,0.71],[0.5027,1.0],[0.5164,0.71],[0.5393,0.2],[0.5712,0],[0.6,0]],
[[0.4975,0],[0.4991,0.05],[0.5,0.5],[0.5009,1.02],[0.5018,0.5],[0.5027,0.05],[0.504,0],[0.51,0]],
[[0.4845,0],[0.4854,0.11],[0.4872,0.6],[0.4881,1.0],[0.49,0.33],[0.4936,0],[0.51,0]],
[[0.4799,0.02],[0.5073,0.31],[0.5347,0.87],[0.553,0.98],[0.5804,0.8],[0.626,0.36],[0.6808,0.13],[0.7721,0.02],[0.85,0]],
[[0.4799,1.31],[0.4808,0.5],[0.4826,0],[0.49,0]],
[[0.4826,0.04],[0.489,0.6],[0.4954,0.93],[0.5027,0.71],[0.5164,0.27],[0.5438,0.04],[0.57,0]],
[[0.4799,0.02],[0.5164,0.36],[0.553,0.8],[0.5804,0.93],[0.626,0.87],[0.7082,0.47],[0.8178,0.2],[1.0005,0.07],[1.563,0.04]],
[[0.4799,0.02],[0.4982,0.58],[0.5119,0.96],[0.5256,0.69],[0.553,0.18],[0.5895,0.02],[0.63,0]],
[[0.5895,0.04],[0.6352,0.27],[0.6808,0.56],[0.7265,0.78],[0.7721,0.96],[0.8178,0.93],[0.9091,0.78],[1.0005,0.56],[1.0461,0.49],[1.0918,0.51],[1.1831,0.4],[1.2744,0.33],[1.3658,0.27],[1.4571,0.22],[1.563,0.11]],
[[0.497,0],[0.4982,0.02],[0.5027,0.53],[0.5073,0.98],[0.5119,0.53],[0.5164,0.02],[0.52,0],[0.53,0]],
[[0.489,0],[0.49,0.02],[0.4936,0.5],[0.4982,0.96],[0.5027,0.5],[0.5091,0.02],[0.515,0]],
[[0.4799,0.2],[0.4815,0.8],[0.4835,0.96],[0.4855,0.4],[0.488,0.03],[0.495,0]],
[[0.4799,0.2],[0.4826,0.8],[0.4854,0.95],[0.489,0.45],[0.495,0.05],[0.51,0]],
[[0.4799,0.04],[0.4936,0.67],[0.5073,0.96],[0.521,0.67],[0.5393,0.22],[0.5712,0.02],[0.60,0]],
[[0.4799,0.3],[0.4808,0.9],[0.4817,0.6],[0.483,0.05],[0.49,0]],
[[0.4799,0.3],[0.481,0.85],[0.482,0.5],[0.4835,0.03],[0.49,0]],
[[0.4799,0.04],[0.4936,0.53],[0.5073,0.98],[0.521,0.71],[0.5438,0.27],[0.5804,0.07],[0.6352,0],[0.68,0]],
[[0.4826,0.04],[0.489,0.6],[0.4936,0.98],[0.4982,0.49],[0.5027,0.04],[0.51,0],[0.52,0]]
];
const rightBlack = [
[[0.5164,0.07],[0.5621,0.44],[0.6169,0.89],[0.6626,1.0],[0.7082,0.96],[0.7721,0.73],[0.8635,0.51],[1.0005,0.33],[1.1831,0.22],[1.3658,0.16],[1.563,0.11]],
[[0.488,0],[0.489,0.07],[0.4963,0.73],[0.5009,0.98],[0.5073,0.62],[0.5146,0.11],[0.5256,0],[0.54,0]],
[[0.5256,0.09],[0.5804,0.53],[0.6352,0.93],[0.6534,0.98],[0.7082,0.89],[0.7721,0.67],[0.8635,0.42],[1.0005,0.27],[1.1831,0.16],[1.3658,0.09],[1.563,0.07]],
[[0.497,0],[0.4982,0.02],[0.5119,0.36],[0.5237,0.96],[0.5347,0.8],[0.553,0.36],[0.5804,0.09],[0.6169,0],[0.64,0]],
[[0.605,0],[0.6078,0.02],[0.6352,0.49],[0.658,0.84],[0.6763,0.96],[0.6991,0.71],[0.7265,0.33],[0.7721,0.09],[0.8178,0],[0.84,0]],
[[0.4799,0.09],[0.4936,0.64],[0.5073,0.98],[0.521,0.76],[0.5438,0.31],[0.5804,0.09],[0.6808,0.02],[0.75,0]],
[[0.4799,0.29],[0.489,0.67],[0.5,0.96],[0.5119,0.8],[0.5347,0.36],[0.5712,0.11],[0.6352,0.02],[0.7,0]],
[[0.4799,0.04],[0.4982,0.27],[0.521,0.78],[0.5438,0.98],[0.5712,0.82],[0.6169,0.42],[0.6808,0.16],[0.7721,0.04],[0.9091,0]],
[[0.4799,0.02],[0.5164,0.36],[0.553,0.8],[0.5895,0.98],[0.6352,0.84],[0.7082,0.51],[0.8178,0.24],[1.0005,0.09],[1.2744,0.02],[1.563,0.02]],
[[0.4799,0.02],[0.521,0.38],[0.553,0.78],[0.5804,0.96],[0.626,0.82],[0.6991,0.49],[0.8178,0.22],[1.0005,0.11],[1.2744,0.04],[1.563,0.02]],
[[0.4799,0.02],[0.5256,0.22],[0.5804,0.67],[0.6443,0.96],[0.69,0.89],[0.7721,0.62],[0.9091,0.38],[1.0918,0.2],[1.2744,0.11],[1.563,0.02]],
[[0.5667,0.04],[0.6078,0.56],[0.6443,0.93],[0.6717,0.96],[0.7265,0.73],[0.7995,0.4],[0.9091,0.18],[1.0918,0.07],[1.3,0.02]],
[[0.4799,0.29],[0.4918,0.78],[0.5027,0.96],[0.5164,0.8],[0.5438,0.4],[0.5804,0.16],[0.6352,0.04],[0.7265,0],[0.8,0]],
[[0.4845,0.04],[0.489,0.76],[0.4918,1.0],[0.4954,0.6],[0.5,0.04],[0.5073,0],[0.52,0]],
[[0.4935,0],[0.4951,0.02],[0.5024,0.51],[0.5088,0.96],[0.5179,0.58],[0.5316,0.13],[0.5545,0],[0.572,0]],
[[0.486,0],[0.4872,0.04],[0.49,0.78],[0.4918,1.04],[0.4936,0.67],[0.4963,0.04],[0.498,0],[0.51,0]],
[[0.4799,0],[0.4826,0.02],[0.4872,0.53],[0.4918,0.98],[0.4963,0.64],[0.5027,0.2],[0.5164,0.02],[0.54,0]],
[[0.4799,0],[0.5256,0.22],[0.5621,0.62],[0.5986,0.96],[0.6352,0.92],[0.6808,0.76],[0.7265,0.54],[0.8178,0.27],[1.0005,0.1],[1.2744,0.04],[1.563,0.02]],
[[0.507,0],[0.5073,0.04],[0.5164,0.49],[0.5283,0.93],[0.5438,0.71],[0.5621,0.33],[0.5895,0.11],[0.63,0]],
[[0.511,0],[0.5119,0.04],[0.5183,0.58],[0.5228,0.91],[0.5301,0.47],[0.5438,0.09],[0.56,0]],
[[0.4799,0.02],[0.5119,0.38],[0.5438,0.78],[0.5712,0.93],[0.6078,0.82],[0.6717,0.49],[0.7721,0.2],[0.9091,0.09],[1.2,0.02],[1.563,0]],
[[0.5164,0.02],[0.553,0.31],[0.5895,0.76],[0.626,0.96],[0.6717,0.87],[0.7447,0.58],[0.8361,0.31],[1.0005,0.18],[1.2744,0.09],[1.563,0.04]],
[[0.4799,0.19],[0.4931,0.62],[0.5095,0.91],[0.5251,0.8],[0.5525,0.4],[0.5981,0.13],[0.6808,0.02],[0.75,0]],
[[0.502,0],[0.5027,0.02],[0.5119,0.6],[0.5192,0.93],[0.5301,0.76],[0.5484,0.31],[0.5804,0.07],[0.61,0]],
[[0.4977,0],[0.4989,0.05],[0.5,0.5],[0.5009,0.98],[0.5018,0.5],[0.5029,0.05],[0.504,0],[0.51,0]],
[[0.4799,0.04],[0.5164,0.44],[0.553,0.82],[0.5804,0.96],[0.6352,0.84],[0.7265,0.6],[0.8635,0.4],[1.0461,0.22],[1.2744,0.13],[1.563,0.07]],
[[0.489,0.02],[0.5438,0.4],[0.5895,0.78],[0.626,0.96],[0.6808,0.84],[0.7721,0.6],[0.8635,0.4],[1.0005,0.27],[1.1831,0.18],[1.3658,0.11],[1.563,0.09]],
[[0.4799,0.04],[0.4982,0.6],[0.5119,0.98],[0.5301,0.64],[0.553,0.24],[0.5986,0.07],[0.65,0]],
[[0.4799,0.96],[0.4808,0.4],[0.4826,0],[0.49,0]],
[[0.4845,0.04],[0.4982,0.64],[0.5119,1.0],[0.5301,0.6],[0.5575,0.16],[0.59,0]],
[[0.5055,0],[0.5073,0.05],[0.5082,0.5],[0.5091,1.02],[0.51,0.5],[0.5109,0.05],[0.512,0],[0.52,0]],
[[0.4845,0],[0.4854,0.11],[0.4872,0.6],[0.4881,1.0],[0.49,0.33],[0.4936,0],[0.51,0]],
[[0.4845,0.02],[0.5256,0.31],[0.5621,0.8],[0.5895,0.98],[0.6352,0.87],[0.7082,0.6],[0.7995,0.31],[0.9091,0.16],[1.0918,0.07],[1.563,0.02]],
[[0.4799,1.31],[0.4808,0.5],[0.4826,0],[0.49,0]],
[[0.4845,0.04],[0.4918,0.6],[0.4982,0.93],[0.5073,0.71],[0.5256,0.22],[0.5621,0.04],[0.59,0]],
[[0.4845,0.02],[0.5438,0.47],[0.5895,0.82],[0.6352,0.93],[0.7082,0.8],[0.7721,0.64],[0.9091,0.36],[1.0918,0.2],[1.2744,0.13],[1.563,0.09]],
[[0.4799,0.02],[0.5027,0.51],[0.5256,0.98],[0.553,0.69],[0.5895,0.29],[0.6352,0.09],[0.7265,0.02],[0.8,0]],
null,
[[0.51,0],[0.5119,0.02],[0.521,0.76],[0.5301,1.0],[0.5438,0.76],[0.5667,0.24],[0.5986,0.04],[0.63,0]],
[[0.497,0],[0.4982,0.02],[0.5055,0.73],[0.51,0.96],[0.521,0.62],[0.5393,0.18],[0.5712,0.02],[0.60,0]],
[[0.4799,0.2],[0.4815,0.8],[0.4835,0.96],[0.4855,0.4],[0.488,0.03],[0.495,0]],
[[0.4799,0.2],[0.4826,0.8],[0.4854,0.95],[0.489,0.45],[0.495,0.05],[0.51,0]],
[[0.4799,0.07],[0.4982,0.56],[0.5256,0.96],[0.5621,0.67],[0.6078,0.33],[0.6808,0.11],[0.7721,0.02],[0.85,0]],
[[0.4808,0.1],[0.482,0.7],[0.4828,0.98],[0.4838,0.5],[0.485,0.05],[0.49,0]],
[[0.4805,0.1],[0.4818,0.6],[0.4828,0.95],[0.484,0.4],[0.4855,0.03],[0.49,0]],
[[0.4799,0.07],[0.5164,0.6],[0.5621,0.98],[0.6078,0.76],[0.6626,0.44],[0.7265,0.27],[0.8178,0.16],[1.0005,0.11],[1.2744,0.04],[1.563,0.02]],
[[0.4799,0.27],[0.4936,0.82],[0.5027,0.98],[0.5164,0.67],[0.5438,0.2],[0.5895,0.04],[0.62,0]]
];
const rightRed = [
[[0.5164,0.07],[0.5621,0.44],[0.6169,0.89],[0.6626,1.0],[0.7082,0.96],[0.7721,0.73],[0.8635,0.51],[1.0005,0.33],[1.1831,0.22],[1.3658,0.16],[1.563,0.11]],
[[0.488,0],[0.489,0.07],[0.4963,0.73],[0.5009,0.98],[0.5073,0.62],[0.5146,0.11],[0.5256,0],[0.54,0]],
[[0.5256,0.09],[0.5804,0.53],[0.6352,0.93],[0.6534,0.98],[0.7082,0.89],[0.7721,0.67],[0.8635,0.42],[1.0005,0.27],[1.1831,0.16],[1.3658,0.09],[1.563,0.07]],
[[0.497,0],[0.4982,0.02],[0.5119,0.36],[0.5237,0.96],[0.5347,0.8],[0.553,0.36],[0.5804,0.09],[0.6169,0],[0.64,0]],
[[0.614,0],[0.6169,0.02],[0.6489,0.6],[0.6717,0.84],[0.6918,0.93],[0.7265,0.6],[0.763,0.22],[0.8178,0.04],[0.85,0]],
[[0.4799,0.09],[0.4936,0.64],[0.5073,0.98],[0.521,0.76],[0.5438,0.31],[0.5804,0.09],[0.6808,0.02],[0.75,0]],
[[0.4799,0.29],[0.489,0.67],[0.5,0.96],[0.5119,0.8],[0.5347,0.36],[0.5712,0.11],[0.6352,0.02],[0.7,0]],
[[0.4799,0.04],[0.4982,0.27],[0.521,0.78],[0.5438,0.98],[0.5712,0.82],[0.6169,0.42],[0.6808,0.16],[0.7721,0.04],[0.9091,0]],
[[0.4799,0.02],[0.5164,0.36],[0.553,0.8],[0.5895,0.98],[0.6352,0.84],[0.7082,0.51],[0.8178,0.24],[1.0005,0.09],[1.2744,0.02],[1.563,0.02]],
[[0.4799,0.02],[0.521,0.38],[0.553,0.78],[0.5804,0.96],[0.626,0.82],[0.6991,0.49],[0.8178,0.22],[1.0005,0.11],[1.2744,0.04],[1.563,0.02]],
[[0.4799,0.02],[0.5256,0.22],[0.5804,0.67],[0.6443,0.96],[0.69,0.89],[0.7721,0.62],[0.9091,0.38],[1.0918,0.2],[1.2744,0.11],[1.563,0.02]],
[[0.5712,0.02],[0.6169,0.6],[0.6534,0.96],[0.6717,1.0],[0.7265,0.78],[0.8178,0.44],[0.9091,0.22],[1.0918,0.11],[1.2744,0.04],[1.563,0.02]],
[[0.4799,0.29],[0.4918,0.78],[0.5027,0.96],[0.5164,0.8],[0.5438,0.4],[0.5804,0.16],[0.6352,0.04],[0.7265,0],[0.8,0]],
[[0.4845,0.04],[0.489,0.76],[0.4918,1.0],[0.4954,0.6],[0.5,0.04],[0.5073,0],[0.52,0]],
[[0.495,0],[0.4966,0.02],[0.504,0.51],[0.5103,0.96],[0.5194,0.58],[0.533,0.13],[0.556,0],[0.575,0]],
[[0.486,0],[0.4872,0.04],[0.49,0.78],[0.4918,1.04],[0.4936,0.67],[0.4963,0.04],[0.498,0],[0.51,0]],
[[0.4799,0],[0.4826,0.02],[0.4872,0.53],[0.4918,0.98],[0.4963,0.64],[0.5027,0.2],[0.5164,0.02],[0.54,0]],
[[0.4799,0],[0.5256,0.22],[0.5621,0.62],[0.5986,0.96],[0.6352,0.93],[0.6808,0.78],[0.7265,0.56],[0.8178,0.29],[1.0005,0.11],[1.2744,0.04],[1.563,0.02]],
[[0.507,0],[0.5073,0.04],[0.521,0.6],[0.5329,0.93],[0.5484,0.64],[0.5712,0.27],[0.6078,0.07],[0.6534,0],[0.68,0]],
[[0.513,0],[0.5146,0.04],[0.521,0.69],[0.5256,0.91],[0.5329,0.58],[0.5438,0.18],[0.5712,0.02],[0.59,0]],
[[0.4799,0.02],[0.5164,0.33],[0.553,0.78],[0.5804,0.93],[0.626,0.78],[0.69,0.51],[0.7721,0.29],[0.9091,0.16],[1.0918,0.07],[1.563,0.02]],
[[0.5164,0],[0.5712,0.31],[0.6169,0.76],[0.6534,0.98],[0.7082,0.87],[0.7721,0.76],[0.7995,0.69],[0.8635,0.49],[1.0005,0.31],[1.1831,0.22],[1.3658,0.13],[1.563,0.04]],
[[0.4799,0.18],[0.4936,0.62],[0.51,0.91],[0.5256,0.8],[0.553,0.4],[0.5986,0.13],[0.6808,0.02],[0.75,0]],
[[0.506,0],[0.5073,0.02],[0.5164,0.6],[0.5237,0.93],[0.5393,0.71],[0.5621,0.31],[0.5986,0.04],[0.63,0]],
[[0.5023,0],[0.5035,0.05],[0.5046,0.5],[0.5055,0.98],[0.5064,0.5],[0.5075,0.05],[0.509,0],[0.515,0]],
[[0.4799,0.02],[0.5164,0.33],[0.553,0.78],[0.5895,0.96],[0.6352,0.87],[0.7265,0.56],[0.8178,0.38],[1.0005,0.2],[1.2744,0.09],[1.563,0.04]],
[[0.489,0],[0.5621,0.22],[0.6078,0.67],[0.6443,0.93],[0.6808,0.89],[0.7539,0.71],[0.8178,0.56],[0.8817,0.6],[0.9274,0.44],[1.0005,0.29],[1.0735,0.33],[1.1374,0.22],[1.2288,0.16],[1.2562,0.27],[1.2927,0.16],[1.3658,0.11],[1.563,0.16]],
[[0.4799,0.09],[0.4936,0.42],[0.5119,0.91],[0.521,0.93],[0.5438,0.6],[0.5804,0.24],[0.6352,0.09],[0.7265,0],[0.76,0]],
[[0.4799,0.96],[0.4808,0.4],[0.4826,0],[0.49,0]],
[[0.4845,0.02],[0.4982,0.49],[0.5146,0.98],[0.5347,0.71],[0.5712,0.27],[0.6169,0.07],[0.6808,0],[0.72,0]],
[[0.51,0],[0.5119,0.02],[0.5183,0.58],[0.5256,0.96],[0.5347,0.69],[0.5484,0.18],[0.5621,0],[0.58,0]],
[[0.4845,0],[0.4854,0.11],[0.4872,0.6],[0.4881,1.0],[0.49,0.33],[0.4936,0],[0.51,0]],
[[0.4845,0],[0.5438,0.2],[0.5986,0.76],[0.6534,0.98],[0.7265,0.87],[0.7995,0.71],[0.8726,0.42],[0.9548,0.38],[1.0005,0.31],[1.1374,0.16],[1.2744,0.04],[1.563,0]],
[[0.4799,1.31],[0.4808,0.5],[0.4826,0],[0.49,0]],
[[0.4826,0.16],[0.4918,0.71],[0.4982,0.98],[0.5119,0.6],[0.5347,0.16],[0.5804,0.02],[0.61,0]],
[[0.4845,0],[0.5621,0.36],[0.6169,0.73],[0.6626,0.91],[0.7082,0.78],[0.7721,0.58],[0.8635,0.42],[0.9548,0.31],[1.0005,0.36],[1.0918,0.24],[1.2744,0.18],[1.3475,0.13],[1.384,0.24],[1.4571,0.11],[1.563,0.11]],
[[0.4799,0.04],[0.5073,0.58],[0.5393,0.98],[0.5712,0.8],[0.6169,0.42],[0.6808,0.2],[0.8178,0.07],[1.0918,0.02],[1.3,0]],
null,
[[0.5073,0.02],[0.5438,0.64],[0.5804,1.0],[0.626,0.87],[0.6808,0.53],[0.7721,0.31],[0.9091,0.16],[1.0918,0.09],[1.563,0.02]],
[[0.4799,0.02],[0.5073,0.58],[0.5393,1.0],[0.5712,0.84],[0.6352,0.4],[0.7265,0.13],[0.9091,0.04],[1.2744,0.02],[1.4,0]],
[[0.4799,0.16],[0.4826,0.71],[0.4863,1.0],[0.4909,0.49],[0.4982,0.09],[0.5164,0],[0.53,0]],
[[0.4799,0.24],[0.4845,0.84],[0.489,0.96],[0.4963,0.47],[0.5119,0.09],[0.5438,0],[0.56,0]],
[[0.4799,0.11],[0.5073,0.56],[0.5347,0.89],[0.5575,0.96],[0.5986,0.67],[0.6626,0.33],[0.7721,0.16],[0.9091,0.07],[1.0918,0.02],[1.3,0]],
[[0.4826,0],[0.4863,0.76],[0.49,0.98],[0.4954,0.42],[0.5073,0.04],[0.5256,0],[0.54,0]],
[[0.4817,0.07],[0.4845,0.73],[0.4872,0.96],[0.4909,0.4],[0.4982,0.07],[0.5119,0],[0.53,0]],
null,
[[0.4799,0.27],[0.4936,0.82],[0.5073,1.0],[0.5347,0.71],[0.5712,0.38],[0.6352,0.16],[0.7265,0.04],[0.9091,0],[1.0,0]]
];

// ---------------- chart ----------------
const FONT = "'Liberation Serif','DejaVu Serif',serif";
const PEAK = 0.762;   // peak height in row units
const NROW = planets.length;
const COLORS = { blue: '#3aa8e2', black: '#1e1e1e', red: '#e81e2a' };

function build(pts, k, range) {
  const base = NROW - 1 - k;
  const out = [];
  if (pts[0][0] > range[0]) out.push([range[0], base]);
  pts.forEach(p => out.push([p[0], base + p[1] * PEAK]));
  if (pts[pts.length - 1][0] < range[1]) out.push([range[1], base]);
  return out;
}

const series = [];
[[leftBlue, leftBlack, leftRed, leftRange, 0], [rightBlue, rightBlack, rightRed, rightRange, 1]].forEach(([b, k, r, range, g]) => {
  [[b, COLORS.blue], [k, COLORS.black], [r, COLORS.red]].forEach(([arr, col], ci) => {
    arr.forEach((pts, i) => {
      if (!pts) return;
      series.push({
        type: 'line', xAxisIndex: g * 4, yAxisIndex: g * 2,
        data: build(pts, i, range), showSymbol: false, symbol: 'none',
        smooth: 0.4, silent: true, animation: false, z: 2 + ci,
        lineStyle: { color: col, width: 2.2 }
      });
    });
  });
});

const rowVals = planets.map((_, i) => i);
// empty sentinel labels at both ends so that ECharts' min/max-label overlap check never removes a planet name
const labelVals = [-0.85].concat(rowVals, [47.2]);
const noLine = { show: false, onZero: false };
function xAxes(g, min, max, major, minor, labelFmt) {
  const base = { gridIndex: g, type: 'value', min, max, axisLine: noLine, splitLine: { show: false } };
  const tk = (vals, len) => ({ show: true, inside: true, length: len, customValues: vals, lineStyle: { color: '#000', width: 1.5 } });
  return [
    Object.assign({}, base, { position: 'bottom', axisTick: tk(major, 10),
      axisLabel: { customValues: major, formatter: labelFmt, color: '#000', fontFamily: FONT, fontSize: 27, margin: 26 },
      name: xName, nameLocation: 'middle', nameGap: 70,
      nameTextStyle: { color: '#000', fontFamily: FONT, fontSize: 29 } }),
    Object.assign({}, base, { position: 'bottom', axisTick: tk(minor, 6), axisLabel: { show: false } }),
    Object.assign({}, base, { position: 'top', axisTick: tk(major, 10), axisLabel: { show: false } }),
    Object.assign({}, base, { position: 'top', axisTick: tk(minor, 6), axisLabel: { show: false } })
  ];
}
function yAxes(g) {
  const base = { gridIndex: g, type: 'value', min: -0.9, max: 47.255, axisLine: noLine, splitLine: { show: false } };
  const tk = { show: true, inside: true, length: 10, customValues: rowVals, lineStyle: { color: '#000', width: 1.5 } };
  return [
    Object.assign({}, base, { position: 'left', axisTick: tk,
      axisLabel: { customValues: labelVals,
        formatter: v => (Math.abs(v - Math.round(v)) < 1e-6 ? planets[NROW - 1 - Math.round(v)] : ''),
        color: '#000', fontFamily: FONT, fontSize: 22, lineHeight: 16, align: 'center', margin: 96, hideOverlap: false } }),
    Object.assign({}, base, { position: 'right', axisTick: tk, axisLabel: { show: false } })
  ];
}
const fmt = v => String(+(+v).toFixed(3));

const chart = echarts.init(document.getElementById('c'), null, { renderer: 'canvas' });
chart.setOption({
  animation: false,
  backgroundColor: '#fff',
  grid: [
    { left: 166, top: 57, width: 474, height: 948, show: true, borderColor: '#000', borderWidth: 2,
      backgroundColor: 'transparent', containLabel: false, outerBoundsMode: 'none' },
    { left: 830, top: 57, width: 473, height: 948, show: true, borderColor: '#000', borderWidth: 2,
      backgroundColor: 'transparent', containLabel: false, outerBoundsMode: 'none' }
  ],
  xAxis: [].concat(xAxes(0, 0.7495, 1.1362, leftMajor, leftMinor, fmt), xAxes(1, 0.375, 1.6705, rightMajor, rightMinor, fmt)),
  yAxis: [].concat(yAxes(0), yAxes(1)),
  graphic: [
    { type: 'text', x: 403, y: 21, style: { text: '{a|' + titles[0] + '}{i|r}{a| ≲ 2 AU}', align: 'center', verticalAlign: 'middle',
      rich: { a: { fontFamily: FONT, fontSize: 28, fill: '#000' }, i: { fontFamily: FONT, fontSize: 28, fontStyle: 'italic', fill: '#000' } } } },
    { type: 'text', x: 1066, y: 21, style: { text: '{a|' + titles[1] + '}{i|r}{a| ≲ 10 AU}', align: 'center', verticalAlign: 'middle',
      rich: { a: { fontFamily: FONT, fontSize: 28, fill: '#000' }, i: { fontFamily: FONT, fontSize: 28, fontStyle: 'italic', fill: '#000' } } } }
  ],
  series
});
</script></body></html>
